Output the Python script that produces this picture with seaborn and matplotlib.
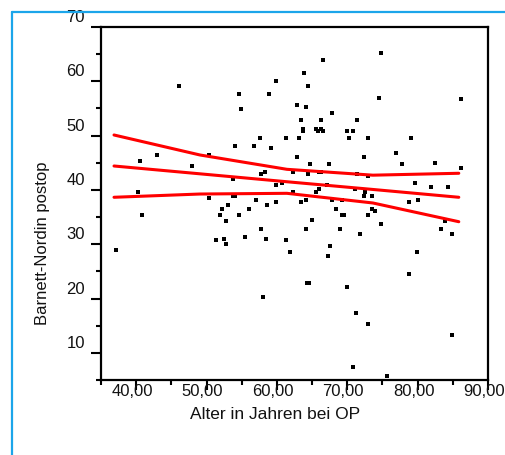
import matplotlib
matplotlib.use("Agg")
import matplotlib.pyplot as plt
import matplotlib.transforms as mtransforms
from matplotlib.lines import Line2D
from matplotlib.ticker import MultipleLocator, FixedLocator
import seaborn as sns

# age at operation vs Barnett-Nordin score
age = [46.1, 54.6, 54.9, 54.0, 50.3, 40.5, 43.0, 47.9, 53.8, 40.3,
       50.3, 53.8, 54.0, 53.0, 52.2, 56.0, 66.5, 63.8, 59.9, 64.4,
       58.9, 62.8, 64.1, 67.8, 63.4, 66.2, 71.4, 63.7, 63.7, 65.5,
       66.2, 65.8, 66.5, 69.9, 70.8, 70.2, 72.9, 57.6, 61.3, 63.1,
       56.7, 59.2, 62.8, 72.4, 64.7, 67.4, 57.7, 58.3, 62.3, 64.4,
       66.0, 66.2, 71.4, 72.9, 59.9, 60.7, 67.1, 66.0, 65.5, 71.1,
       72.5, 72.4, 62.3, 57.0, 58.6, 59.9, 63.4, 64.1, 67.8, 69.2,
       68.4, 74.8, 74.5, 86.1, 79.0, 76.9, 77.8, 82.4, 86.1, 79.6,
       81.9, 84.3, 73.5, 78.8, 80.0, 73.5, 73.9, 40.8, 37.1, 51.9,
       52.8, 54.6, 51.4, 52.5, 52.8, 55.5, 57.7, 58.5, 61.3, 61.8,
       58.0, 64.1, 65.0, 64.3, 64.6, 67.6, 67.3, 69.3, 69.5, 68.9,
       69.9, 71.3, 72.9, 70.8, 75.7, 71.8, 72.9, 74.8, 79.9, 78.8,
       83.3, 83.9, 84.9, 84.9]
score = [59.2, 57.7, 54.9, 48.1, 46.4, 45.4, 46.4, 44.4, 42.1, 39.6,
         38.5, 38.9, 38.9, 37.2, 36.5, 36.5, 63.9, 61.6, 60.1, 59.2,
         57.7, 55.7, 55.3, 54.2, 52.9, 52.9, 52.9, 51.3, 50.9, 51.3,
         51.3, 50.9, 50.9, 50.9, 50.9, 49.6, 49.6, 49.6, 49.6, 49.6,
         48.1, 47.7, 46.1, 46.1, 44.8, 44.8, 42.9, 43.3, 43.3, 42.9,
         43.3, 43.3, 42.9, 42.6, 40.9, 41.3, 41.0, 40.2, 39.6, 40.2,
         39.6, 38.9, 39.6, 38.1, 37.3, 37.8, 37.8, 38.1, 38.1, 38.1,
         36.5, 65.2, 56.9, 56.7, 49.6, 46.8, 44.8, 45.0, 44.0, 41.3,
         40.5, 40.5, 38.9, 37.8, 38.1, 36.5, 36.2, 35.3, 29.0, 35.4,
         34.2, 35.4, 30.7, 31.0, 30.1, 31.4, 32.9, 31.0, 30.7, 28.6,
         20.2, 32.9, 34.5, 22.9, 22.9, 29.7, 27.9, 35.3, 35.3, 32.9,
         22.2, 17.4, 15.4, 7.4, 5.8, 31.8, 35.3, 33.8, 28.6, 24.6,
         32.9, 34.2, 31.8, 13.2]

# regression line and 95% band as drawn in the original
fit_x = [36.85, 49.06, 61.42, 73.64, 85.85]
fit_mid = [44.41, 42.97, 41.51, 40.09, 38.65]
fit_upper = [50.12, 46.44, 43.80, 42.72, 43.07]
fit_lower = [38.65, 39.25, 39.38, 37.60, 34.15]

x_ticks = [40, 50, 60, 70, 80, 90]
x_labels = ["40,00", "50,00", "60,00", "70,00", "80,00", "90,00"]
y_ticks = [10, 20, 30, 40, 50, 60, 70]

sns.set_style("white")
plt.rcParams["font.family"] = ["Liberation Sans", "DejaVu Sans"]

fig = plt.figure(figsize=(5.05, 4.55), dpi=100)
ax = fig.add_axes([0.2, 0.1648, 0.7663, 0.7758])

sns.scatterplot(x=age, y=score, marker="s", s=10, color="black",
                linewidth=0, ax=ax, zorder=3)
for band in (fit_upper, fit_mid, fit_lower):
    sns.lineplot(x=fit_x, y=band, color="red", linewidth=2.2, ax=ax,
                 zorder=4)

ax.set_xlim(35, 90)
ax.set_ylim(5, 70)

ax.xaxis.set_major_locator(FixedLocator(x_ticks))
ax.set_xticklabels(x_labels)
ax.xaxis.set_minor_locator(MultipleLocator(5))
ax.yaxis.set_major_locator(FixedLocator(y_ticks))
ax.set_yticklabels([str(v) for v in y_ticks])
ax.yaxis.set_minor_locator(MultipleLocator(5))

ax.tick_params(axis="both", which="both", direction="out", color="black",
               width=1.5, bottom=True, left=True)
ax.tick_params(axis="both", which="major", length=7.5, labelsize=12,
               labelcolor="#111111")
ax.tick_params(axis="both", which="minor", length=3.6)
ax.tick_params(axis="x", which="major", pad=-4.5)
ax.tick_params(axis="y", which="major", pad=4)

for side in ["left", "bottom", "right", "top"]:
    ax.spines[side].set_color("black")
    ax.spines[side].set_linewidth(1.6)

# labels sit a bit off their ticks, as in the source
up = mtransforms.ScaledTranslation(0, 0.11, fig.dpi_scale_trans)
for tick in ax.yaxis.get_major_ticks():
    tick.label1.set_transform(tick.label1.get_transform() + up)
left = mtransforms.ScaledTranslation(-0.04, 0, fig.dpi_scale_trans)
for tick in ax.xaxis.get_major_ticks():
    tick.label1.set_transform(tick.label1.get_transform() + left)

ax.set_xlabel("Alter in Jahren bei OP", fontsize=12.5, color="#111111")
ax.set_ylabel("Barnett-Nordin postop", fontsize=12, color="#111111")
ax.xaxis.set_label_coords(0.4496, -0.076)
ax.yaxis.set_label_coords(-0.131, 0.387)

# light blue frame from the chart editor
blue = "#1ba5ea"
fig.add_artist(Line2D([12 / 505, 1], [1 - 12 / 455] * 2, color=blue,
                      linewidth=1.6))
fig.add_artist(Line2D([12 / 505] * 2, [0, 1 - 12 / 455], color=blue,
                      linewidth=1.6))

fig.savefig("out.png", dpi=100)
